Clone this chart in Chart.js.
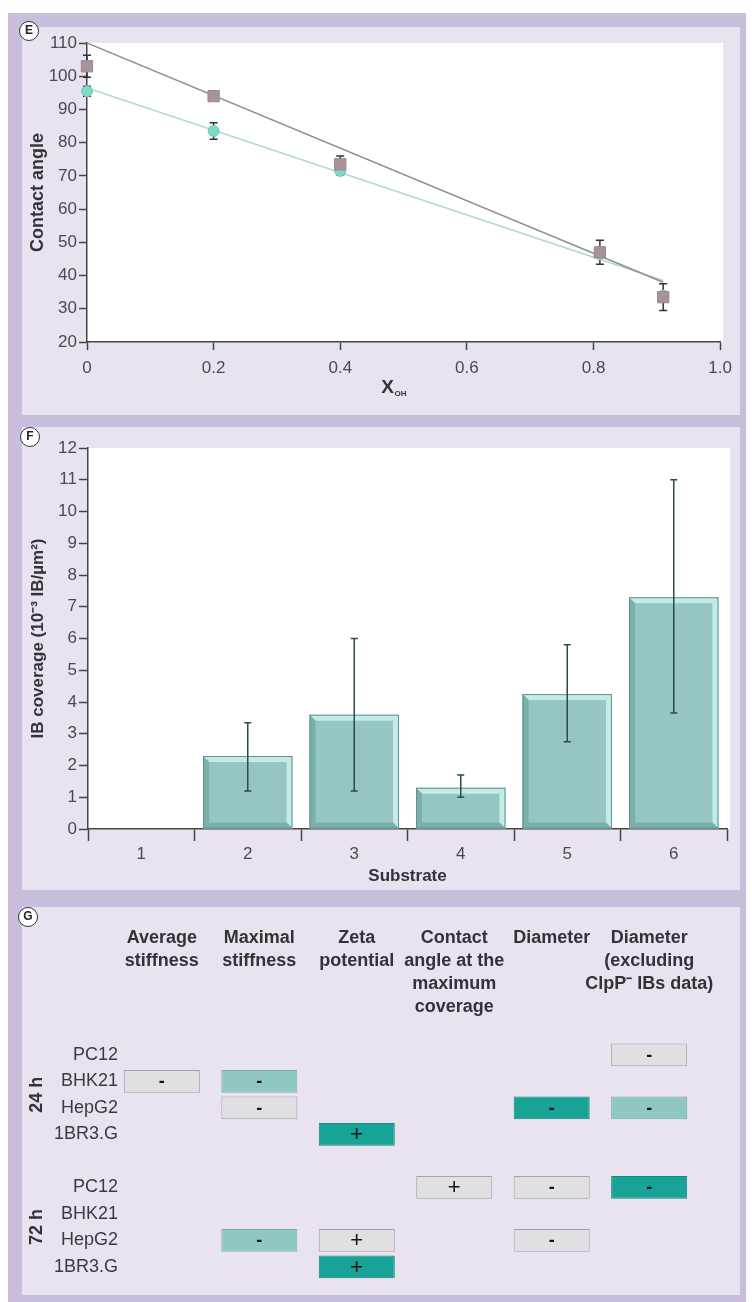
<!DOCTYPE html>
<html>
<head>
<meta charset="utf-8">
<script src="https://cdn.jsdelivr.net/npm/chart.js@4.4.0/dist/chart.umd.min.js"></script>
<style>
  html, body { margin: 0; padding: 0; background: #fff; }
  body { width: 752px; height: 1302px; position: relative; overflow: hidden; }
  .frame { position: absolute; left: 8px; top: 13px; width: 738px; height: 1289px; background: #c9bedb; }
  .panel { position: absolute; left: 22px; width: 718px; background: #e9e3f0; }
  .panel canvas { position: absolute; left: 0; top: 0; }
  .tag { position: absolute; width: 20px; height: 20px; box-sizing: border-box; border: 1.5px solid #333; border-radius: 50%;
         background: #fff; color: #222; font: bold 12px "Liberation Sans", Arial, sans-serif; text-align: center; line-height: 17px; z-index: 5; }
</style>
</head>
<body>
<div class="frame"></div>
<div class="panel" style="top:27px;height:388px"><canvas id="chartE" width="718" height="388"></canvas></div>
<div class="panel" style="top:427px;height:463px"><canvas id="chartF" width="718" height="463"></canvas></div>
<div class="panel" style="top:907px;height:388px"><canvas id="chartG" width="718" height="388"></canvas></div>
<div class="tag" style="left:19px;top:21px">E</div>
<div class="tag" style="left:20px;top:427px">F</div>
<div class="tag" style="left:18px;top:907px">G</div>
<script>
// ---- panel E: contact angle vs X_OH ----
const xOH = [0, 0.2, 0.4, 0.81, 0.91];
const angleMauve = [103, 94, 73.5, 47, 33.5];
const angleMauveErr = [3.3, 1, 2.5, 3.6, 4];
const angleCyan = [95.5, 83.5, 71.5, 46.5, 34];
const angleCyanErr = [1.5, 2.5, 1.2, 1, 1];
const fitX = [0, 0.91];
const fitMauve = [110, 38];
const fitCyan = [96.5, 38.5];

// ---- panel F: IB coverage per substrate ----
const substrates = ['1', '2', '3', '4', '5', '6'];
const coverage = [0, 2.3, 3.6, 1.3, 4.25, 7.3];
const coverageLow = [null, 1.2, 1.2, 1.0, 2.75, 3.65];
const coverageHigh = [null, 3.35, 6.0, 1.7, 5.8, 11.0];

// ---- panel G: correlation table ----
const gHeaders = [['Average', 'stiffness'], ['Maximal', 'stiffness'], ['Zeta', 'potential'],
  ['Contact', 'angle at the', 'maximum', 'coverage'], ['Diameter'], ['Diameter', '(excluding', 'ClpP⁻ IBs data)']];
const gRows = ['PC12', 'BHK21', 'HepG2', '1BR3.G', '', 'PC12', 'BHK21', 'HepG2', '1BR3.G'];
const gGroups = ['24 h', '72 h'];
// sign + strength (1 weak, 2 medium, 3 strong), one entry per row
const avgStiffness   = ['', '-1', '', '', '', '', '', '', ''];
const maxStiffness   = ['', '-2', '-1', '', '', '', '', '-2', ''];
const zetaPotential  = ['', '', '', '+3', '', '', '', '+1', '+3'];
const contactAngle   = ['', '', '', '', '', '+1', '', '', ''];
const diameter       = ['', '', '-3', '', '', '-1', '', '-1', ''];
const diameterNoClpP = ['-1', '', '-2', '', '', '-3', '', '', ''];

const FONT = '"Liberation Sans", Arial, sans-serif';
Chart.defaults.font.family = FONT;
Chart.defaults.animation = false;
Chart.defaults.responsive = false;
Chart.defaults.events = [];
Chart.defaults.plugins.legend.display = false;
Chart.defaults.plugins.tooltip.enabled = false;

const whiteArea = {
  id: 'whiteArea',
  beforeDraw(chart) {
    const {ctx, chartArea: a} = chart;
    ctx.save();
    ctx.fillStyle = '#fff';
    ctx.fillRect(a.left, a.top, a.right - a.left + 3, a.bottom - a.top);
    ctx.restore();
  }
};

function errorBars(id, capHalf, color, lw, before) {
  const draw = chart => {
    const {ctx} = chart;
    const y = chart.scales.y;
    chart.data.datasets.forEach((ds, di) => {
      if (!ds.errLow) return;
      const meta = chart.getDatasetMeta(di);
      ctx.save();
      ctx.strokeStyle = color;
      ctx.lineWidth = lw;
      meta.data.forEach((el, i) => {
        const lo = ds.errLow[i], hi = ds.errHigh[i];
        if (lo == null || hi == null) return;
        const x = el.x, y1 = y.getPixelForValue(lo), y2 = y.getPixelForValue(hi);
        ctx.beginPath();
        ctx.moveTo(x, y1); ctx.lineTo(x, y2);
        ctx.moveTo(x - capHalf, y1); ctx.lineTo(x + capHalf, y1);
        ctx.moveTo(x - capHalf, y2); ctx.lineTo(x + capHalf, y2);
        ctx.stroke();
      });
      ctx.restore();
    });
  };
  return before ? {id, beforeDatasetsDraw: draw} : {id, afterDatasetsDraw: draw};
}

const axisCol = '#444';
const tickCol = '#4a4a4a';

// ---------- E ----------
const xohTitle = {
  id: 'xohTitle',
  afterDraw(chart) {
    const {ctx, chartArea: a} = chart;
    const cx = (a.left + a.right) / 2 - 16;
    ctx.save();
    ctx.fillStyle = '#333';
    ctx.textBaseline = 'middle';
    ctx.textAlign = 'center';
    ctx.font = 'bold 19px ' + FONT;
    ctx.fillText('X', cx, a.bottom + 46);
    ctx.textAlign = 'left';
    ctx.font = 'bold 8px ' + FONT;
    ctx.fillText('OH', cx + 7, a.bottom + 52);
    ctx.restore();
  }
};

new Chart(document.getElementById('chartE'), {
  type: 'scatter',
  data: {
    datasets: [
      {
        data: xOH.map((x, i) => ({x, y: angleMauve[i]})),
        errLow: angleMauve.map((v, i) => v - angleMauveErr[i]),
        errHigh: angleMauve.map((v, i) => v + angleMauveErr[i]),
        pointStyle: 'rect', pointRadius: 8, backgroundColor: '#a9929b', borderColor: '#9d8690', borderWidth: 1, clip: false
      },
      {
        data: xOH.map((x, i) => ({x, y: angleCyan[i]})),
        errLow: angleCyan.map((v, i) => v - angleCyanErr[i]),
        errHigh: angleCyan.map((v, i) => v + angleCyanErr[i]),
        pointStyle: 'circle', pointRadius: 5.5, backgroundColor: '#80dac8', borderColor: '#6fcab8', borderWidth: 1, clip: false
      },
      {
        type: 'line', data: fitX.map((x, i) => ({x, y: fitMauve[i]})),
        borderColor: '#8f8f8f', borderWidth: 1.5, pointRadius: 0, fill: false
      },
      {
        type: 'line', data: fitX.map((x, i) => ({x, y: fitCyan[i]})),
        borderColor: '#b2d6d0', borderWidth: 1.5, pointRadius: 0, fill: false
      }
    ]
  },
  options: {
    layout: {padding: {top: 16, right: 13, bottom: 0, left: 0}},
    scales: {
      x: {
        type: 'linear', min: 0, max: 1,
        afterFit: s => { s.height = 73; },
        border: {display: true, color: axisCol, width: 1.5},
        grid: {drawOnChartArea: false, tickLength: 8, tickColor: axisCol, tickWidth: 1.5},
        ticks: {stepSize: 0.2, padding: 8, color: tickCol, font: {size: 17},
                callback: v => v === 0 ? '0' : v.toFixed(1)}
      },
      y: {
        min: 20, max: 110,
        afterFit: s => { s.width = 65; },
        border: {display: true, color: axisCol, width: 1.5},
        grid: {drawOnChartArea: false, tickLength: 8, tickColor: axisCol, tickWidth: 1.5},
        ticks: {stepSize: 10, padding: 2, color: tickCol, font: {size: 17}},
        title: {display: true, text: 'Contact angle', color: '#333', font: {size: 18, weight: 'bold'}, padding: {top: 5, bottom: 0}}
      }
    }
  },
  plugins: [whiteArea, errorBars('errE', 4, '#333', 1.5, true), xohTitle]
});

// ---------- F ----------
const bevel = {
  id: 'bevel',
  afterDatasetsDraw(chart) {
    const {ctx} = chart;
    chart.getDatasetMeta(0).data.forEach(bar => {
      const {x, y, base, width} = bar.getProps(['x', 'y', 'base', 'width'], true);
      const h = base - y;
      if (h <= 1) return;
      const l = x - width / 2, r = x + width / 2, b = 6;
      ctx.save();
      ctx.fillStyle = '#c4ebe6';
      ctx.beginPath(); ctx.moveTo(l, y); ctx.lineTo(r, y); ctx.lineTo(r - b, y + b); ctx.lineTo(l + b, y + b); ctx.fill();
      ctx.beginPath(); ctx.moveTo(r, y); ctx.lineTo(r, base); ctx.lineTo(r - b, base - b); ctx.lineTo(r - b, y + b); ctx.fill();
      ctx.fillStyle = '#7aafaa';
      ctx.beginPath(); ctx.moveTo(l, y); ctx.lineTo(l + b, y + b); ctx.lineTo(l + b, base - b); ctx.lineTo(l, base); ctx.fill();
      ctx.beginPath(); ctx.moveTo(l, base); ctx.lineTo(l + b, base - b); ctx.lineTo(r - b, base - b); ctx.lineTo(r, base); ctx.fill();
      ctx.strokeStyle = '#5f948f'; ctx.lineWidth = 1;
      ctx.strokeRect(l + 0.5, y + 0.5, width - 1, h - 1);
      ctx.restore();
    });
  }
};

new Chart(document.getElementById('chartF'), {
  type: 'bar',
  data: {
    labels: substrates,
    datasets: [{
      data: coverage, errLow: coverageLow, errHigh: coverageHigh,
      backgroundColor: '#95c6c2', borderWidth: 0, barPercentage: 0.84, categoryPercentage: 1
    }]
  },
  options: {
    layout: {padding: {top: 21, right: 13, bottom: 0, left: 0}},
    scales: {
      x: {
        afterFit: s => { s.height = 61; },
        border: {display: true, color: axisCol, width: 1.5},
        grid: {drawOnChartArea: false, tickLength: 12, tickColor: axisCol, tickWidth: 1.5},
        ticks: {padding: 3, color: tickCol, font: {size: 17}},
        title: {display: true, text: 'Substrate', color: '#333', font: {size: 17, weight: 'bold'}, padding: {top: 0, bottom: 3}}
      },
      y: {
        min: 0, max: 12,
        afterFit: s => { s.width = 66; },
        border: {display: true, color: axisCol, width: 1.5},
        grid: {drawOnChartArea: false, tickLength: 9, tickColor: axisCol, tickWidth: 1.5},
        ticks: {stepSize: 1, padding: 2, color: tickCol, font: {size: 17}},
        title: {display: true, text: 'IB coverage (10⁻³ IB/µm²)', color: '#333', font: {size: 17, weight: 'bold'}, padding: {top: 6, bottom: 0}}
      }
    }
  },
  plugins: [whiteArea, bevel, errorBars('errF', 3.5, '#2c4a47', 1.5, false)]
});

// ---------- G ----------
const gColumns = [avgStiffness, maxStiffness, zetaPotential, contactAngle, diameter, diameterNoClpP];
const cellFill = {1: '#e1dfe2', 2: '#8fc8c1', 3: '#17a396'};
const cellBorder = {1: '#a3a1a6', 2: '#7aaca6', 3: '#128a7f'};
const headerLines = gHeaders.map(h => h.concat(['', '', '', '']).slice(0, 4));

const gMarks = {
  id: 'gMarks',
  afterDatasetsDraw(chart) {
    const {ctx} = chart;
    chart.data.datasets.forEach((ds, di) => {
      chart.getDatasetMeta(di).data.forEach((el, i) => {
        const code = ds.codes[i];
        if (!code) return;
        const {x, y, base} = el.getProps(['x', 'y', 'base'], true);
        ctx.save();
        ctx.fillStyle = '#151515';
        ctx.textAlign = 'center';
        ctx.textBaseline = 'middle';
        ctx.font = (code[0] === '+' ? '22px ' : 'bold 18px ') + FONT;
        ctx.fillText(code[0], (x + base) / 2, y + 1);
        ctx.restore();
      });
    });
    const yS = chart.scales.y;
    gGroups.forEach((g, k) => {
      ctx.save();
      ctx.translate(15, yS.getPixelForValue(k * 5 + 1.5));
      ctx.rotate(-Math.PI / 2);
      ctx.fillStyle = '#333';
      ctx.textAlign = 'center';
      ctx.textBaseline = 'middle';
      ctx.font = 'bold 18px ' + FONT;
      ctx.fillText(g, 0, 0);
      ctx.restore();
    });
  }
};

new Chart(document.getElementById('chartG'), {
  type: 'bar',
  data: {
    labels: gRows,
    datasets: gColumns.map((codes, c) => ({
      codes,
      data: codes.map(code => code ? [c - 0.39, c + 0.39] : null),
      backgroundColor: codes.map(code => code ? cellFill[code[1]] : 'transparent'),
      borderColor: codes.map(code => code ? cellBorder[code[1]] : 'transparent'),
      borderWidth: 1, borderSkipped: false,
      barPercentage: 0.86, categoryPercentage: 1, grouped: false
    }))
  },
  options: {
    indexAxis: 'y',
    layout: {padding: {top: 0, right: 39.7, bottom: 15, left: 0}},
    scales: {
      x: {type: 'linear', min: -0.45, max: 5.5, display: false},
      xTop: {
        type: 'linear', position: 'top', min: -0.45, max: 5.5,
        afterBuildTicks: s => { s.ticks = headerLines.map((_, i) => ({value: i})); },
        afterFit: s => { s.height = 134.75; },
        grid: {display: false, drawTicks: false}, border: {display: false},
        ticks: {padding: 23.5, autoSkip: false, maxRotation: 0, color: '#333',
                font: {size: 18, weight: 'bold', lineHeight: 1.28},
                callback: (v, i) => headerLines[i]}
      },
      y: {
        afterFit: s => { s.width = 96; },
        grid: {display: false, drawTicks: false}, border: {display: false},
        ticks: {padding: 0, autoSkip: false, color: '#3a3a3a', font: {size: 18}}
      }
    }
  },
  plugins: [gMarks]
});
</script>
</body>
</html>
